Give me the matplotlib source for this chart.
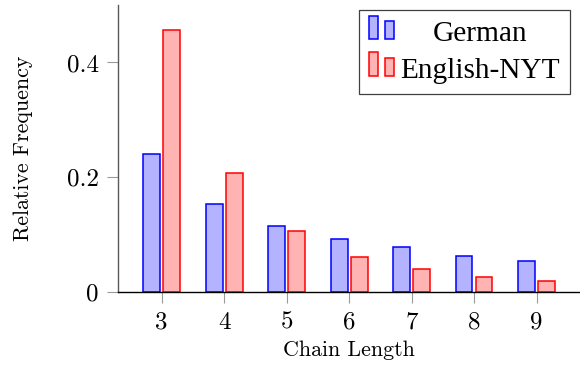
import matplotlib
matplotlib.use("Agg")
import matplotlib.pyplot as plt
from matplotlib.legend_handler import HandlerBase
from matplotlib.patches import Rectangle
import numpy as np

# data
lengths = [3, 4, 5, 6, 7, 8, 9]
german = [0.240, 0.153, 0.115, 0.092, 0.078, 0.064, 0.054]
english = [0.456, 0.208, 0.106, 0.062, 0.040, 0.027, 0.019]
series = ["German", "English-NYT"]
yticks = [0, 0.2, 0.4]
ytick_labels = ["0", "0.2", "0.4"]

blue_fill, blue_edge = (0.7, 0.7, 1.0), (0, 0, 1)
red_fill, red_edge = (1.0, 0.7, 0.7), (1, 0, 0)

plt.rcParams["font.family"] = "cmr10"
plt.rcParams["axes.formatter.use_mathtext"] = True


class TwoBarHandler(HandlerBase):
    """pgfplots-style ybar legend image: two small bars."""
    def create_artists(self, legend, orig_handle, xdescent, ydescent,
                       width, height, fontsize, trans):
        fc = orig_handle.get_facecolor()
        ec = orig_handle.get_edgecolor()
        bw = width * 0.35
        y0 = -ydescent + 1.5
        r1 = Rectangle((-xdescent, y0), bw, height * 1.13, fc=fc, ec=ec,
                       lw=1.1, transform=trans)
        r2 = Rectangle((-xdescent + width - bw, y0), bw, height * 0.85,
                       fc=fc, ec=ec, lw=1.1, transform=trans)
        return [r1, r2]


fig = plt.figure(figsize=(5.8, 3.65), dpi=100)
ax = fig.add_axes([0.204, 0.1992, 0.796, 0.7871])

x = np.array(lengths)
w, shift = 0.267, 0.16
b1 = ax.bar(x - shift, german, width=w, color=blue_fill, edgecolor=blue_edge,
            linewidth=1.1, label=series[0])
b2 = ax.bar(x + shift, english, width=w, color=red_fill, edgecolor=red_edge,
            linewidth=1.1, label=series[1])

ax.set_xlim(2.306, 9.694)
ax.set_ylim(0, 0.5)
ax.set_xticks(lengths, labels=[str(v) for v in lengths])
ax.set_yticks(yticks, labels=ytick_labels)

for s in ["top", "right"]:
    ax.spines[s].set_visible(False)
ax.spines["left"].set_color("0.35")
ax.spines["left"].set_linewidth(1.0)
ax.spines["bottom"].set_color("black")
ax.spines["bottom"].set_linewidth(1.0)
ax.tick_params(direction="out", length=8, width=0.8, color="0.6",
               labelsize=18, pad=6)

ax.set_xlabel("Chain Length", fontsize=15.8)
ax.set_ylabel("Relative Frequency", fontsize=15.8)
ax.xaxis.set_label_coords(0.5, -0.168)
ax.yaxis.set_label_coords(-0.185, 0.5)

leg = ax.legend(handles=[b1.patches[0], b2.patches[0]], labels=series,
                handler_map={Rectangle: TwoBarHandler()},
                loc="upper right", bbox_to_anchor=(570 / 580, 1 - 10 / 365),
                bbox_transform=fig.transFigure, borderaxespad=0,
                prop={"family": "Liberation Serif", "size": 21.2},
                fancybox=False, framealpha=1, edgecolor="0.25",
                borderpad=0.35, handlelength=0.85, handletextpad=0.2,
                labelspacing=0.35)
leg.get_frame().set_linewidth(0.9)

# centre the label column like pgfplots does
fig.canvas.draw()
r = fig.canvas.get_renderer()
t0, t1 = leg.get_texts()
dx = (t1.get_window_extent(r).width - t0.get_window_extent(r).width) / 2
t0.set_x(dx)

fig.savefig("out.png", dpi=100)
